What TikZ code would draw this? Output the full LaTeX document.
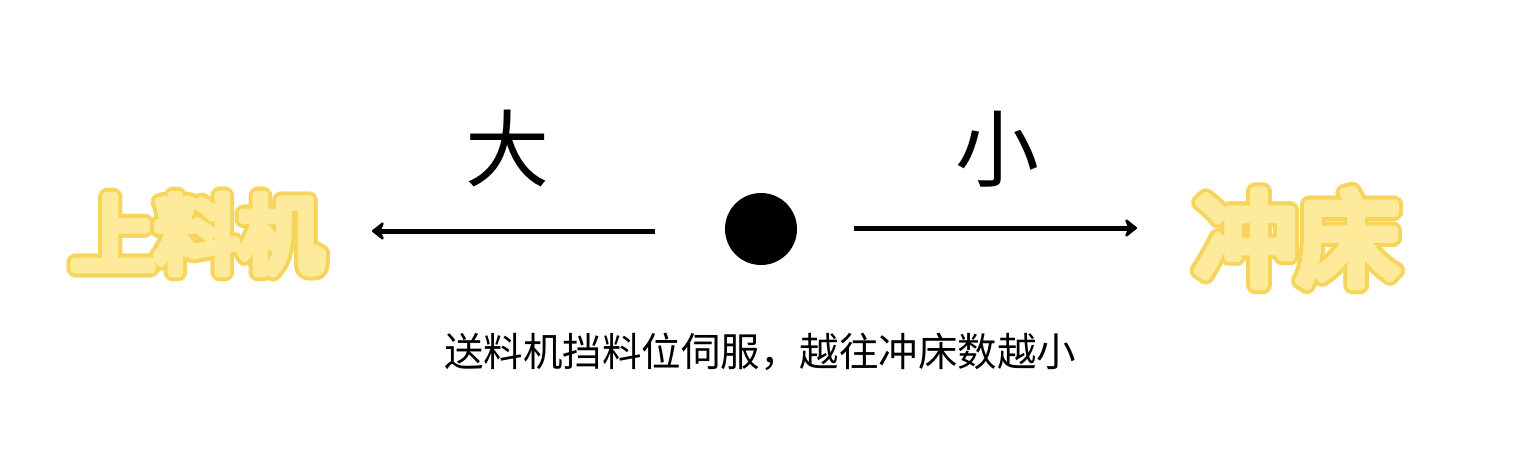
\documentclass[tikz,border=0pt]{standalone}
\usepackage{fontspec}
\usetikzlibrary{arrows.meta}
\newfontfamily\cjk{Noto Sans CJK SC}
\newfontfamily\cjkb{Noto Sans CJK SC}[FakeBold=3]
\definecolor{bubfill}{HTML}{FDEB9B}
\definecolor{bubline}{HTML}{F7D55C}
\newcommand{\bubbletext}[3]{% text, position, size
  \foreach \a in {0,20,...,340} {
    \node[bubline, font=\cjkb\fontsize{#3}{#3}\selectfont] at ([shift={(\a:7.5)}]#2) {#1};
  }
  \foreach \a in {0,30,...,330} {
    \node[bubfill, font=\cjkb\fontsize{#3}{#3}\selectfont] at ([shift={(\a:3.5)}]#2) {#1};
  }
  \node[bubfill, font=\cjkb\fontsize{#3}{#3}\selectfont] at (#2) {#1};
}
\begin{document}
\begin{tikzpicture}[x=1pt,y=-1pt,
  lbl/.style={font=\cjk\fontsize{84}{84}\selectfont, inner sep=0pt},
  captext/.style={font=\cjk\fontsize{39.5}{39.5}\selectfont, inner sep=0pt},
  arr/.style={line width=5pt, -{Stealth[length=14pt,width=22pt,round]}}]
\useasboundingbox[fill=white] (0,0) rectangle (1513,460);
\bubbletext{上料机}{197,234}{84}
\bubbletext{冲床}{1297,238}{102}
\node[lbl] (big) at (507,149) {大};
\node[lbl] (small) at (997,149) {小};
\node[circle, fill=black, minimum size=72pt, inner sep=0pt] (dot) at (761,229) {};
\coordinate (ls) at (655,231);
\coordinate (le) at (372,231);
\coordinate (rs) at (854,228);
\coordinate (re) at (1137,228);
\draw[arr] (ls) -- (le);
\draw[arr] (rs) -- (re);
\node[captext] (caption) at (760,352) {送料机挡料位伺服，越往冲床数越小};
\end{tikzpicture}
\end{document}
